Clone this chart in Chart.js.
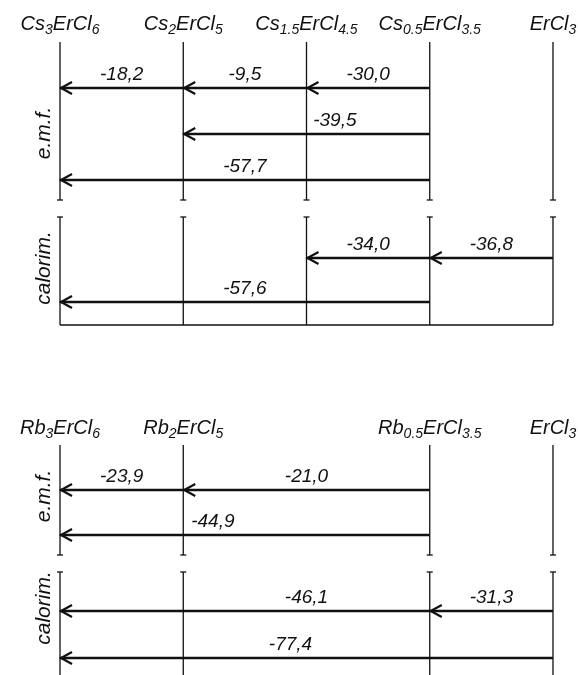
<!DOCTYPE html>
<html>
<head>
<meta charset="utf-8">
<script src="https://cdn.jsdelivr.net/npm/chart.js@4.4.0/dist/chart.umd.min.js"></script>
<style>
html, body { margin: 0; padding: 0; background: #fff; }
canvas { display: block; }
</style>
</head>
<body>
<canvas id="chart" width="578" height="675"></canvas>
<script>
// compounds on the composition axis (position index)
const csNames = ['Cs_{3}ErCl_{6}', 'Cs_{2}ErCl_{5}', 'Cs_{1.5}ErCl_{4.5}', 'Cs_{0.5}ErCl_{3.5}', 'ErCl_{3}'];
const csPos = [0, 1, 2, 3, 4];
const rbNames = ['Rb_{3}ErCl_{6}', 'Rb_{2}ErCl_{5}', 'Rb_{0.5}ErCl_{3.5}', 'ErCl_{3}'];
const rbPos = [0, 1, 3, 4];

// enthalpies, arrow start -> end (position index), row inside the block
const csEmfValues = [-18.2, -9.5, -30.0, -39.5, -57.7];
const csEmfFrom = [1, 2, 3, 3, 3];
const csEmfTo = [0, 1, 2, 1, 0];
const csEmfRow = [0, 0, 0, 1, 2];

const csCalValues = [-34.0, -36.8, -57.6];
const csCalFrom = [3, 4, 3];
const csCalTo = [2, 3, 0];
const csCalRow = [0, 0, 1];

const rbEmfValues = [-23.9, -21.0, -44.9];
const rbEmfFrom = [1, 3, 3];
const rbEmfTo = [0, 1, 0];
const rbEmfRow = [0, 0, 1];

const rbCalValues = [-46.1, -31.3, -77.4];
const rbCalFrom = [3, 4, 4];
const rbCalTo = [0, 3, 0];
const rbCalRow = [0, 0, 1];

// layout of the four blocks (y in canvas pixels, y axis runs 0..675 downward)
const blocks = [
    { pos: csPos, values: csEmfValues, from: csEmfFrom, to: csEmfTo, row: csEmfRow,
      top: 42, bottom: 200, cap: 'bottom', row0: 88, gap: 46, title: 'e.m.f.', titleY: 133,
      labelAt: [null, null, null, 2.23, null] },
    { pos: csPos, values: csCalValues, from: csCalFrom, to: csCalTo, row: csCalRow,
      top: 217, bottom: 325, cap: 'top', row0: 258, gap: 44, title: 'calorim.', titleY: 268,
      base: true, labelAt: [null, null, null] },
    { pos: rbPos, values: rbEmfValues, from: rbEmfFrom, to: rbEmfTo, row: rbEmfRow,
      top: 445, bottom: 555, cap: 'bottom', row0: 490, gap: 45, title: 'e.m.f.', titleY: 496,
      labelAt: [null, null, 1.24] },
    { pos: rbPos, values: rbCalValues, from: rbCalFrom, to: rbCalTo, row: rbCalRow,
      top: 572, bottom: 690, cap: 'top', row0: 611, gap: 47, title: 'calorim.', titleY: 608,
      labelAt: [2.0, null, 1.87] }
];
const headers = [
    { names: csNames, pos: csPos, y: 30 },
    { names: rbNames, pos: rbPos, y: 434 }
];

const INK = '#111';
const datasets = [];

blocks.forEach(function(b) {
    // vertical composition lines
    b.pos.forEach(function(p) {
        datasets.push({ data: [{ x: p, y: b.top }, { x: p, y: b.bottom }],
            borderColor: INK, borderWidth: 1.3 });
    });
    if (b.base) {
        datasets.push({ data: [{ x: b.pos[0], y: b.bottom }, { x: b.pos[b.pos.length - 1], y: b.bottom }],
            borderColor: INK, borderWidth: 1.3 });
    }
    // reaction arrows
    for (let i = 0; i < b.values.length; i++) {
        let y = b.row0 + b.row[i] * b.gap;
        datasets.push({ data: [{ x: b.from[i], y: y }, { x: b.to[i], y: y }],
            borderColor: INK, borderWidth: 2.3 });
    }
});

function drawFormula(ctx, str, cx, y, size) {
    // split "Cs_{3}ErCl_{6}" into normal / subscript parts
    let parts = [];
    let re = /_\{([^}]*)\}|([^_]+)/g, m;
    while ((m = re.exec(str)) !== null) {
        if (m[1] !== undefined) parts.push({ t: m[1], sub: true });
        else parts.push({ t: m[2], sub: false });
    }
    let mainFont = 'italic ' + size + 'px "Liberation Sans"';
    let subFont = 'italic ' + Math.round(size * 0.7) + 'px "Liberation Sans"';
    let w = 0;
    parts.forEach(function(p) {
        ctx.font = p.sub ? subFont : mainFont;
        p.w = ctx.measureText(p.t).width;
        w += p.w;
    });
    let x = cx - w / 2;
    ctx.textAlign = 'left';
    ctx.textBaseline = 'alphabetic';
    parts.forEach(function(p) {
        ctx.font = p.sub ? subFont : mainFont;
        ctx.fillText(p.t, x, p.sub ? y + 4 : y);
        x += p.w;
    });
}

const decorations = {
    id: 'decorations',
    afterDatasetsDraw: function(chart) {
        const ctx = chart.ctx;
        const xs = chart.scales.x, ys = chart.scales.y;
        ctx.save();
        ctx.fillStyle = INK;
        ctx.strokeStyle = INK;

        headers.forEach(function(h) {
            h.names.forEach(function(n, i) {
                drawFormula(ctx, n, xs.getPixelForValue(h.pos[i]), h.y, 20);
            });
        });

        blocks.forEach(function(b) {
            // end caps
            ctx.lineWidth = 1.3;
            let capY = ys.getPixelForValue(b.cap === 'top' ? b.top : b.bottom);
            b.pos.forEach(function(p) {
                let px = xs.getPixelForValue(p);
                ctx.beginPath();
                ctx.moveTo(px - 3, capY);
                ctx.lineTo(px + 3, capY);
                ctx.stroke();
            });

            // arrow heads and values
            ctx.lineWidth = 2.2;
            for (let i = 0; i < b.values.length; i++) {
                let py = ys.getPixelForValue(b.row0 + b.row[i] * b.gap);
                let tip = xs.getPixelForValue(b.to[i]);
                let dir = b.from[i] > b.to[i] ? 1 : -1;
                ctx.beginPath();
                ctx.moveTo(tip + dir * 12, py - 6);
                ctx.lineTo(tip + 1, py);
                ctx.lineTo(tip + dir * 12, py + 6);
                ctx.stroke();

                let lx = b.labelAt[i] !== null ? b.labelAt[i] : (b.from[i] + b.to[i]) / 2;
                ctx.font = 'italic 19px "Liberation Sans"';
                ctx.textAlign = 'center';
                ctx.textBaseline = 'alphabetic';
                let txt = b.values[i].toFixed(1).replace('.', ',');
                ctx.fillText(txt, xs.getPixelForValue(lx), py - 8);
            }

            // rotated block title
            ctx.save();
            ctx.translate(50, ys.getPixelForValue(b.titleY));
            ctx.rotate(-Math.PI / 2);
            ctx.font = 'italic 21px "Liberation Sans"';
            ctx.textAlign = 'center';
            ctx.textBaseline = 'alphabetic';
            ctx.fillText(b.title, 0, 0);
            ctx.restore();
        });
        ctx.restore();
    }
};

new Chart(document.getElementById('chart').getContext('2d'), {
    type: 'scatter',
    data: { datasets: datasets },
    options: {
        responsive: false,
        animation: false,
        showLine: true,
        elements: { point: { radius: 0, hoverRadius: 0 }, line: { tension: 0 } },
        layout: { padding: 0 },
        plugins: { legend: { display: false }, tooltip: { enabled: false } },
        scales: {
            x: { type: 'linear', display: false, min: -0.487, max: 4.203 },
            y: { type: 'linear', display: false, min: 0, max: 675, reverse: true }
        }
    },
    plugins: [decorations]
});
</script>
</body>
</html>
